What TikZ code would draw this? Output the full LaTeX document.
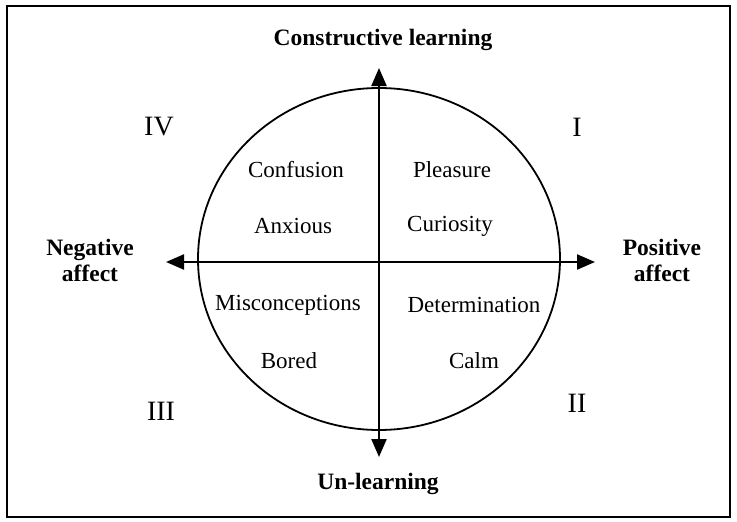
\documentclass[tikz,border=0pt]{standalone}
\usepackage{fontspec}
\setmainfont{Liberation Serif}
\usetikzlibrary{arrows.meta}
\begin{document}
\begin{tikzpicture}[x=1pt,y=-1pt,
  lbl/.style={font=\fontsize{23.5}{26}\selectfont\bfseries, align=center, inner sep=0pt},
  word/.style={font=\fontsize{23}{25}\selectfont, inner sep=0pt},
  num/.style={font=\fontsize{28}{30}\selectfont, inner sep=0pt},
  axis/.style={line width=2.2pt, -{Triangle[length=18pt,width=15pt]}}]
\useasboundingbox (0,0) rectangle (737,522);
\draw[line width=1.6pt] (7,6) rectangle (730,517);
\draw[line width=1.8pt] (379,259) ellipse [x radius=181, y radius=171];
\coordinate (c) at (379,262);
\coordinate (top) at (379,68);
\coordinate (bot) at (379,457);
\coordinate (lft) at (166,262);
\coordinate (rgt) at (595,262);
\draw[axis] (c) -- (top);
\draw[axis] (c) -- (bot);
\draw[axis] (c) -- (lft);
\draw[axis] (c) -- (rgt);
\node[lbl] (cl) at (383,40) {Constructive learning};
\node[lbl] (ul) at (378,484) {Un-learning};
\node[lbl] (na) at (90,260) {Negative\\affect};
\node[lbl] (pa) at (662,260) {Positive\\affect};
\node[num] (n4) at (159,127) {IV};
\node[num] (n1) at (577,127) {I};
\node[num] (n3) at (161,411) {III};
\node[num] (n2) at (577,403) {II};
\node[word] (w1) at (296,170) {Confusion};
\node[word] (w2) at (293,226) {Anxious};
\node[word] (w3) at (452,170) {Pleasure};
\node[word] (w4) at (450,226) {Curiosity};
\node[word] (w5) at (288,305) {Misconceptions};
\node[word] (w6) at (289,361) {Bored};
\node[word] (w7) at (474,305) {Determination};
\node[word] (w8) at (474,361) {Calm};
\end{tikzpicture}
\end{document}
